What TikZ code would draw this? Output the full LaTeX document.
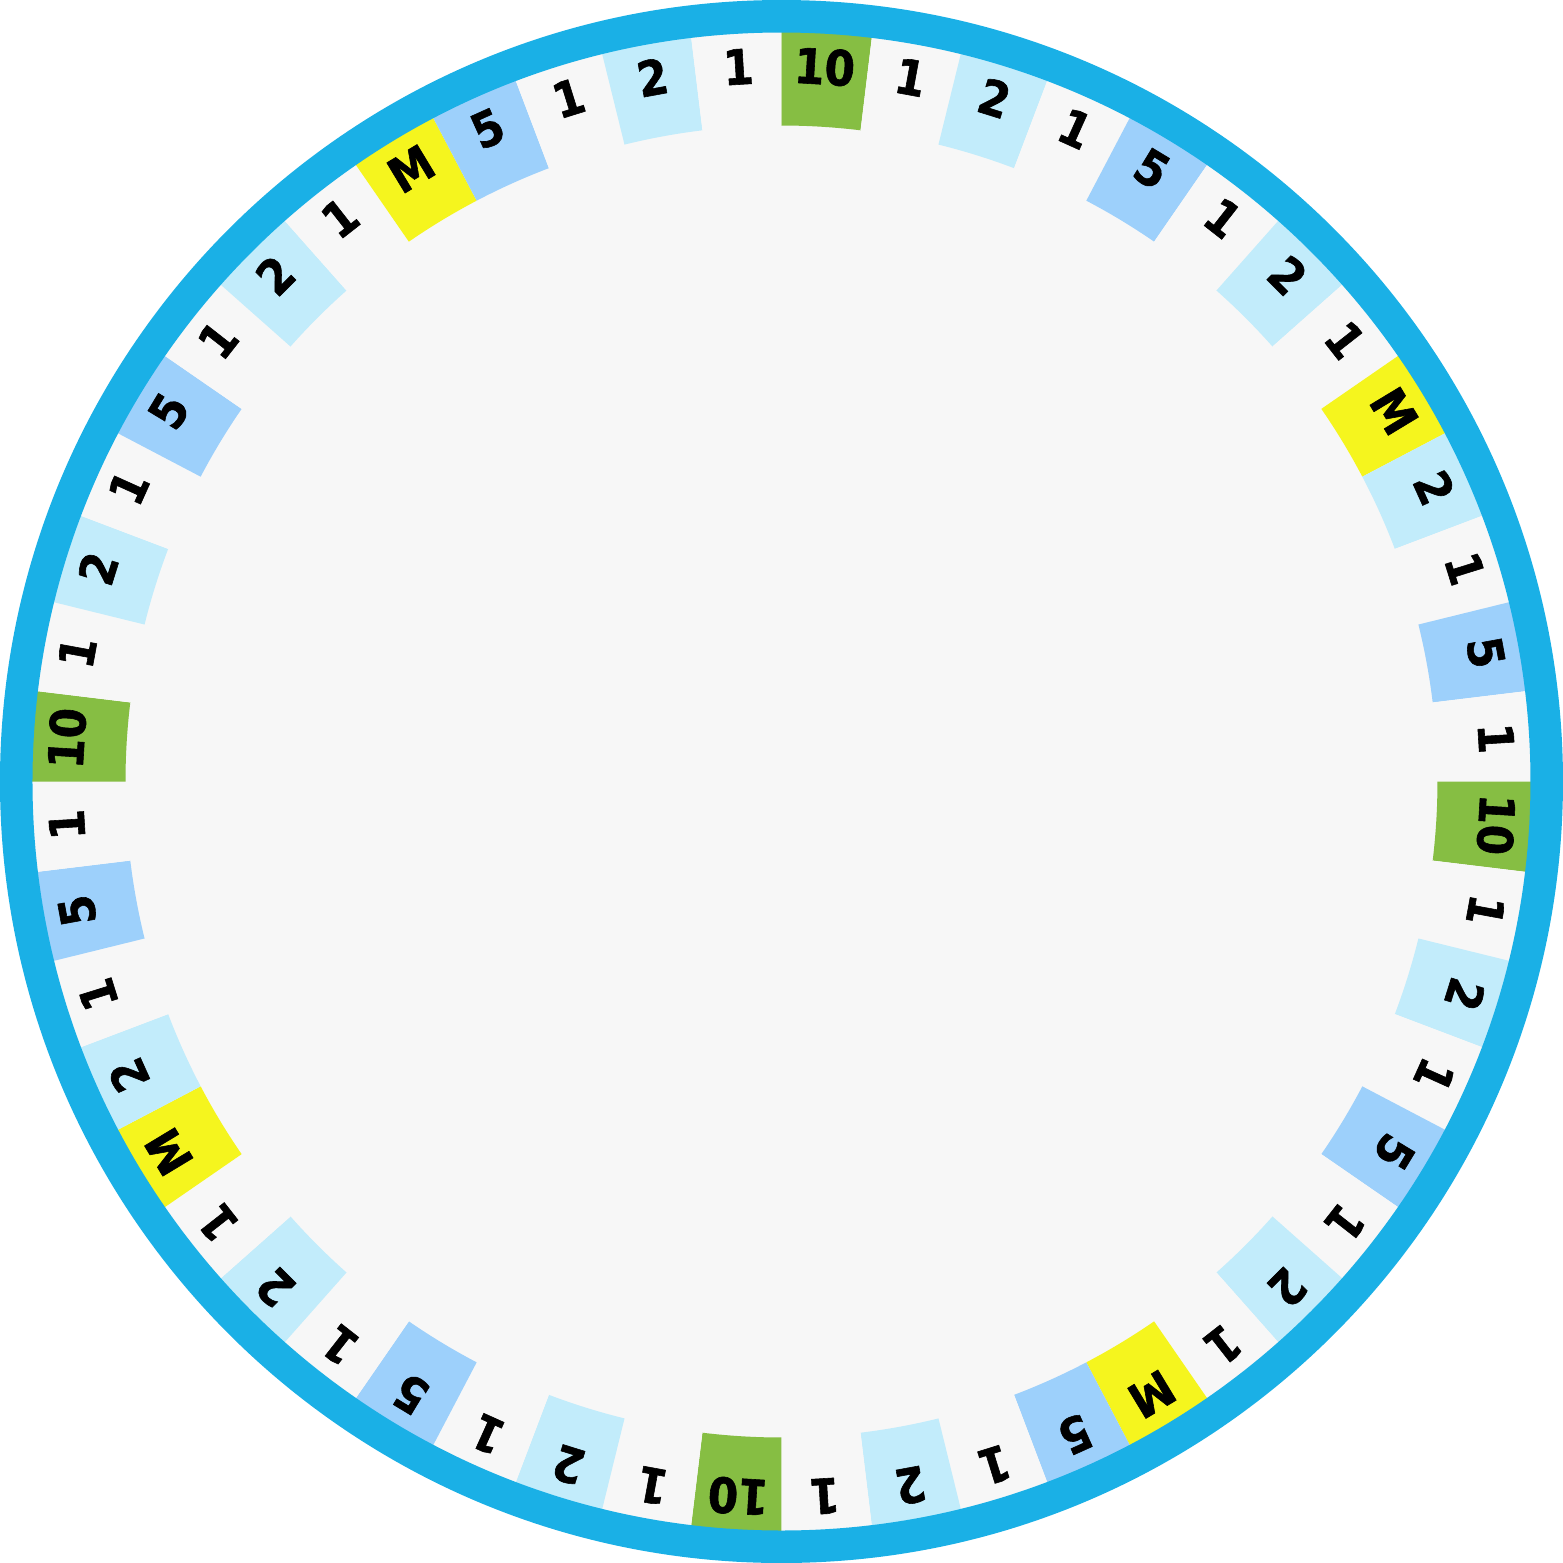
\documentclass[tikz,border=0pt]{standalone}
\usepackage{fontspec}
\setmainfont{DejaVu Sans Condensed}[BoldFeatures={FakeBold=1.2}]
\usepackage{tikz}
\definecolor{wheelRing}{HTML}{1AB0E6}
\definecolor{wheelBg}{HTML}{F7F7F7}
\definecolor{segTen}{HTML}{86BE43}
\definecolor{segFive}{HTML}{9DD0FB}
\definecolor{segTwo}{HTML}{C2ECFB}
\definecolor{segM}{HTML}{F5F51E}
\definecolor{segOne}{HTML}{F7F7F7}

\begin{document}
\begin{tikzpicture}[
  font=\fontsize{13.8}{16}\selectfont\bfseries,
  lbl/.style={inner sep=0pt, text=black},
]
\useasboundingbox (-7.815,-7.815) rectangle (7.815,7.815);
\fill[wheelBg] (0,0) circle (7.6);
\foreach \v/\c [count=\i from 0] in {
  10/segTen,1/segOne,2/segTwo,1/segOne,5/segFive,1/segOne,2/segTwo,1/segOne,M/segM,
  2/segTwo,1/segOne,5/segFive,1/segOne,10/segTen,1/segOne,2/segTwo,1/segOne,5/segFive,
  1/segOne,2/segTwo,1/segOne,M/segM,5/segFive,1/segOne,2/segTwo,1/segOne,
  10/segTen,1/segOne,2/segTwo,1/segOne,5/segFive,1/segOne,2/segTwo,1/segOne,M/segM,
  2/segTwo,1/segOne,5/segFive,1/segOne,10/segTen,1/segOne,2/segTwo,1/segOne,5/segFive,
  1/segOne,2/segTwo,1/segOne,M/segM,5/segFive,1/segOne,2/segTwo,1/segOne} {
  \pgfmathsetmacro{\a}{90-\i*(360/52)}
  \pgfmathsetmacro{\b}{\a-360/52}
  \pgfmathsetmacro{\m}{\a-180/52}
  \fill[\c] (\a:6.56) arc[start angle=\a, end angle=\b, radius=6.56]
    -- (\b:7.6) arc[start angle=\b, end angle=\a, radius=7.6] -- cycle;
  \node[lbl, rotate=\m-90] (seg\i) at (\m:7.16) {\v};
}
\draw[wheelRing, line width=0.325cm] (0,0) circle (7.6525);
\end{tikzpicture}
\end{document}
